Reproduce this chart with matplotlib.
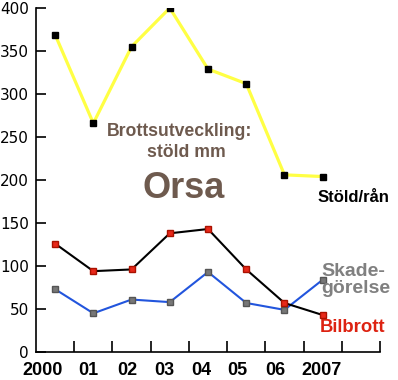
import numpy as np
import matplotlib.pyplot as plt

years = ["2000", "01", "02", "03", "04", "05", "06", "2007"]
stold_ran = [369, 266, 355, 400, 329, 312, 206, 204]
bilbrott = [126, 94, 96, 138, 143, 96, 57, 43]
skadegorelse = [73, 45, 61, 58, 93, 57, 49, 84]

# where the year labels sit (they are not exactly under the points)
label_pos = [0.16, 1.36, 2.38, 3.35, 4.32, 5.26, 6.25, 7.48]

brown = "#6e5a4e"
bold_font = "Liberation Sans"

fig = plt.figure(figsize=(3.98, 3.8), dpi=100)
ax = fig.add_axes([36 / 398, 28 / 380, 344 / 398, 344 / 380])

x = np.arange(len(years)) + 0.5

ax.plot(x, stold_ran, color="#ffff44", lw=2.3, marker="s", ms=5,
        mfc="black", mec="black", zorder=3)
ax.plot(x, skadegorelse, color="#2255dd", lw=1.5, marker="s", ms=5,
        mfc="#777777", mec="#555555", zorder=3)
ax.plot(x, bilbrott, color="black", lw=1.5, marker="s", ms=5,
        mfc="#e8281a", mec="#aa1100", zorder=4)

ax.set_xlim(0, 9)
ax.set_ylim(0, 400)
ax.spines["top"].set_visible(False)
ax.spines["right"].set_visible(False)
ax.spines["left"].set_linewidth(1.2)
ax.spines["bottom"].set_linewidth(1.2)

ax.set_yticks(range(0, 401, 50))
ax.tick_params(axis="y", direction="in", length=7, width=1.2,
               labelsize=11, pad=5)

ax.set_xticks(range(1, 10))
ax.set_xticklabels([])
ax.tick_params(axis="x", which="major", direction="in", length=8, width=1.2)
ax.set_xticks(label_pos, minor=True)
ax.set_xticklabels(years, minor=True, fontweight="bold", fontsize=13,
                   family=bold_font)
ax.tick_params(axis="x", which="minor", length=0, pad=7.5)


def px(xp, yp):
    # pixel position in the figure -> data coordinates
    return ((xp - 36) / 344 * 9, (352 - yp) / 344 * 400)


tx, ty = px(180, 131)
ax.text(tx, ty, "Brottsutveckling:", color=brown, fontsize=12.7,
        fontweight="bold", family=bold_font, ha="center", va="center")
tx, ty = px(186, 153)
ax.text(tx, ty, "stöld mm", color=brown, fontsize=12.7,
        fontweight="bold", family=bold_font, ha="center", va="center")
tx, ty = px(184, 188)
ax.text(tx, ty, "Orsa", color=brown, fontsize=26,
        fontweight="bold", family=bold_font, ha="center", va="center")

tx, ty = px(318, 197)
ax.text(tx, ty, "Stöld/rån", color="black", fontsize=12,
        fontweight="bold", family=bold_font, ha="left", va="center",
        clip_on=False)
tx, ty = px(321, 280)
ax.text(tx, ty, "Skade-\ngörelse", color="#808080", fontsize=14,
        fontweight="bold", family=bold_font, ha="left", va="center",
        linespacing=1.0, clip_on=False)
tx, ty = px(320, 327)
ax.text(tx, ty, "Bilbrott", color="#dd2211", fontsize=13.3,
        fontweight="bold", family=bold_font, ha="left", va="center",
        clip_on=False)

fig.savefig("out.png", dpi=100)
